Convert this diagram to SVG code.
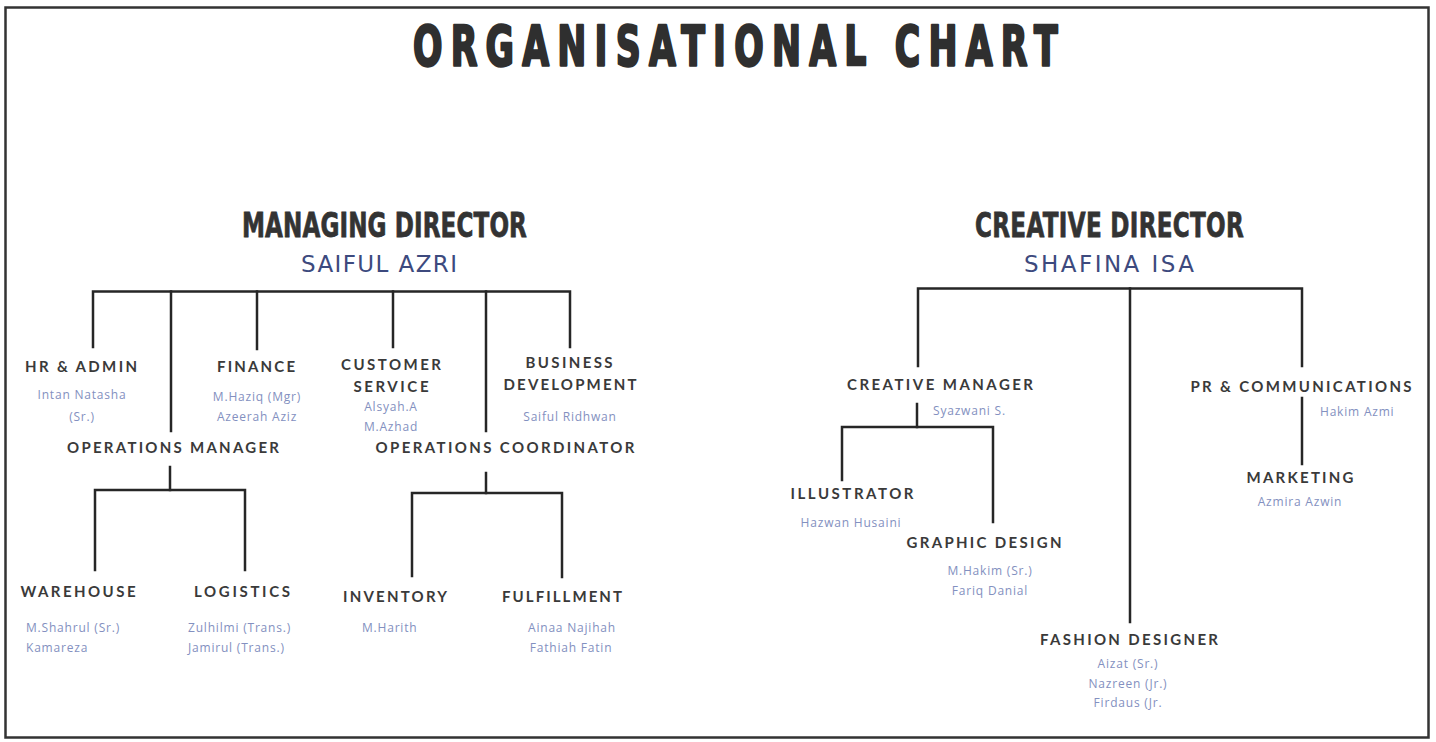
<svg xmlns="http://www.w3.org/2000/svg" width="1436" height="742" viewBox="0 0 1436 742">
  <style>
    .title { font-family: "DejaVu Sans", "Liberation Sans", sans-serif; font-weight: 700; font-size: 56px; fill: #2f2f2f; stroke: #2f2f2f; stroke-width: 2.6px; stroke-linejoin: round; }
    .head { font-family: "DejaVu Sans", "Liberation Sans", sans-serif; font-weight: 700; font-size: 33px; fill: #333333; stroke: #333333; stroke-width: 0.8px; }
    .who { font-family: "DejaVu Sans", "Liberation Sans", sans-serif; font-size: 23px; fill: #3d4a7e; }
    .role { font-family: Lato, "Open Sans", sans-serif; font-weight: 700; font-size: 15px; fill: #3a3a3a; }
    .name { font-family: "Open Sans", "Liberation Sans", sans-serif; font-size: 12px; letter-spacing: 0.8px; fill: #8390c0; }
    .links path { fill: none; stroke: #262626; stroke-width: 2.5; stroke-linecap: square; }
  </style>

  <rect x="0" y="0" width="1436" height="742" fill="#ffffff"/>
  <rect x="5.5" y="7.5" width="1423" height="730" fill="none" stroke="#333333" stroke-width="2.5"/>

  <!-- condensed heading: glyphs narrowed by the x-scale, spacing set by textLength -->
  <g id="title" transform="translate(413,65) scale(0.62,1)">
    <text class="title" x="0" y="0" textLength="1040" lengthAdjust="spacing">ORGANISATIONAL CHART</text>
  </g>

  <!-- connectors -->
  <g class="links" id="connectors">
    <!-- managing director branch -->
    <path d="M93,347 V291.5 H570 V347"/>
    <path d="M171,291.5 V431"/>
    <path d="M257,291.5 V349"/>
    <path d="M393,291.5 V347"/>
    <path d="M486,291.5 V431"/>
    <!-- operations manager -->
    <path d="M170,467 V490"/>
    <path d="M95,570 V490 H245 V570"/>
    <!-- operations coordinator -->
    <path d="M486,473 V493"/>
    <path d="M412,576 V493 H562 V577"/>
    <!-- creative director branch -->
    <path d="M918,366 V288.5 H1302 V366"/>
    <path d="M1130,288.5 V622"/>
    <!-- creative manager -->
    <path d="M917,404 V427"/>
    <path d="M842,480 V427 H993 V522"/>
    <!-- pr to marketing -->
    <path d="M1302,398 V464"/>
  </g>

  <g id="managing-director">
    <g transform="translate(242,237) scale(0.7,1)">
      <text class="head" x="0" y="0" textLength="407" lengthAdjust="spacing">MANAGING DIRECTOR</text>
    </g>
    <text class="who" x="379" y="272" text-anchor="middle" textLength="156">SAIFUL AZRI</text>
  </g>

  <g id="hr-admin">
    <text class="role" x="81" y="372" text-anchor="middle" textLength="112">HR &amp; ADMIN</text>
    <text class="name" x="82" y="399" text-anchor="middle">Intan Natasha</text>
    <text class="name" x="82" y="421" text-anchor="middle">(Sr.)</text>
  </g>

  <g id="finance">
    <text class="role" x="256" y="372" text-anchor="middle" textLength="78">FINANCE</text>
    <text class="name" x="257" y="401" text-anchor="middle">M.Haziq (Mgr)</text>
    <text class="name" x="257" y="421" text-anchor="middle">Azeerah Aziz</text>
  </g>

  <g id="customer-service">
    <text class="role" x="391" y="370" text-anchor="middle" textLength="100">CUSTOMER</text>
    <text class="role" x="391" y="392" text-anchor="middle" textLength="75">SERVICE</text>
    <text class="name" x="391" y="411" text-anchor="middle">Alsyah.A</text>
    <text class="name" x="391" y="431" text-anchor="middle">M.Azhad</text>
  </g>

  <g id="business-development">
    <text class="role" x="569" y="368" text-anchor="middle" textLength="87">BUSINESS</text>
    <text class="role" x="570" y="390" text-anchor="middle" textLength="133">DEVELOPMENT</text>
    <text class="name" x="570" y="421" text-anchor="middle">Saiful Ridhwan</text>
  </g>

  <g id="operations-manager">
    <text class="role" x="173" y="453" text-anchor="middle" textLength="212">OPERATIONS MANAGER</text>
  </g>

  <g id="operations-coordinator">
    <text class="role" x="505" y="453" text-anchor="middle" textLength="259">OPERATIONS COORDINATOR</text>
  </g>

  <g id="warehouse">
    <text class="role" x="78" y="597" text-anchor="middle" textLength="115">WAREHOUSE</text>
    <text class="name" x="26" y="632">M.Shahrul (Sr.)</text>
    <text class="name" x="26" y="652">Kamareza</text>
  </g>

  <g id="logistics">
    <text class="role" x="242" y="597" text-anchor="middle" textLength="96">LOGISTICS</text>
    <text class="name" x="188" y="632">Zulhilmi (Trans.)</text>
    <text class="name" x="188" y="652">Jamirul (Trans.)</text>
  </g>

  <g id="inventory">
    <text class="role" x="395" y="602" text-anchor="middle" textLength="104">INVENTORY</text>
    <text class="name" x="362" y="632">M.Harith</text>
  </g>

  <g id="fulfillment">
    <text class="role" x="562" y="602" text-anchor="middle" textLength="120">FULFILLMENT</text>
    <text class="name" x="572" y="632" text-anchor="middle">Ainaa Najihah</text>
    <text class="name" x="571" y="652" text-anchor="middle">Fathiah Fatin</text>
  </g>

  <g id="creative-director">
    <g transform="translate(975,237) scale(0.7,1)">
      <text class="head" x="0" y="0" textLength="384" lengthAdjust="spacing">CREATIVE DIRECTOR</text>
    </g>
    <text class="who" x="1109" y="272" text-anchor="middle" textLength="170">SHAFINA ISA</text>
  </g>

  <g id="creative-manager">
    <text class="role" x="940" y="390" text-anchor="middle" textLength="186">CREATIVE MANAGER</text>
    <text class="name" x="933" y="415">Syazwani S.</text>
  </g>

  <g id="pr-communications">
    <text class="role" x="1301" y="392" text-anchor="middle" textLength="221">PR &amp; COMMUNICATIONS</text>
    <text class="name" x="1320" y="416">Hakim Azmi</text>
  </g>

  <g id="marketing">
    <text class="role" x="1300" y="483" text-anchor="middle" textLength="107">MARKETING</text>
    <text class="name" x="1300" y="506" text-anchor="middle">Azmira Azwin</text>
  </g>

  <g id="illustrator">
    <text class="role" x="852" y="499" text-anchor="middle" textLength="123">ILLUSTRATOR</text>
    <text class="name" x="851" y="527" text-anchor="middle">Hazwan Husaini</text>
  </g>

  <g id="graphic-design">
    <text class="role" x="984" y="548" text-anchor="middle" textLength="155">GRAPHIC DESIGN</text>
    <text class="name" x="990" y="575" text-anchor="middle">M.Hakim (Sr.)</text>
    <text class="name" x="990" y="595" text-anchor="middle">Fariq Danial</text>
  </g>

  <g id="fashion-designer">
    <text class="role" x="1129" y="645" text-anchor="middle" textLength="178">FASHION DESIGNER</text>
    <text class="name" x="1128" y="668" text-anchor="middle">Aizat (Sr.)</text>
    <text class="name" x="1128" y="688" text-anchor="middle">Nazreen (Jr.)</text>
    <text class="name" x="1128" y="707" text-anchor="middle">Firdaus (Jr.</text>
  </g>
</svg>
